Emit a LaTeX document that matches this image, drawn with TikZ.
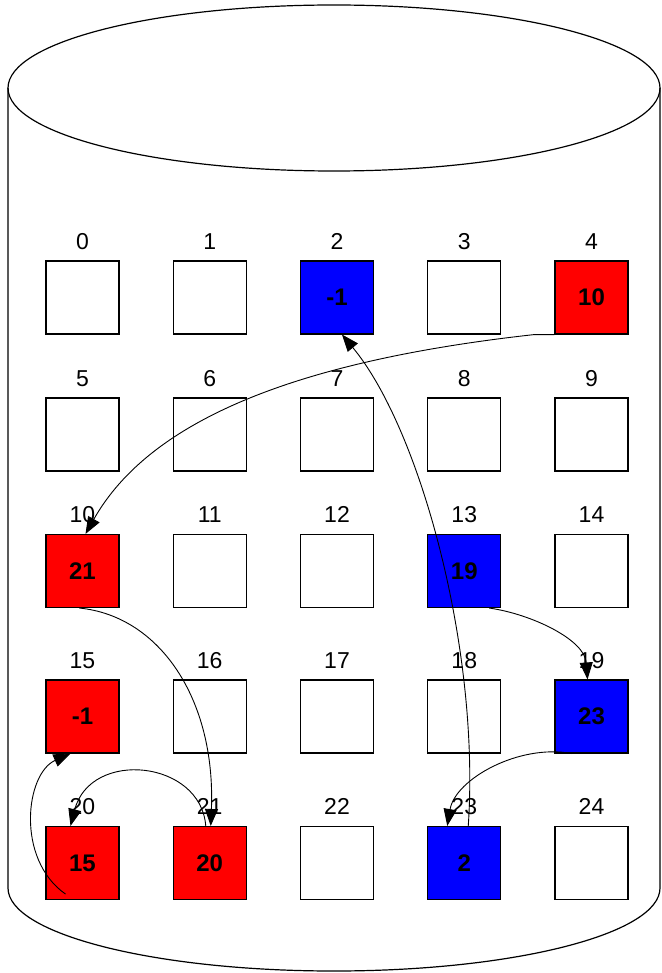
\documentclass[tikz,border=0pt]{standalone}
\usepackage{fontspec}
\setmainfont{Liberation Sans}
\usetikzlibrary{arrows.meta}
\definecolor{cellred}{RGB}{255,0,0}
\definecolor{cellblue}{RGB}{0,0,255}
\tikzset{
  cell/.style={rectangle, draw=black, line width=1.1pt, fill=white,
               minimum width=73pt, minimum height=73pt, inner sep=0pt,
               font=\fontsize{24}{26}\selectfont\bfseries},
  redcell/.style={cell, fill=cellred},
  bluecell/.style={cell, fill=cellblue},
  clabel/.style={font=\fontsize{23}{25}\selectfont, inner sep=0pt},
  link/.style={-{Triangle[length=17pt,width=13pt]}, line width=0.9pt},
  wall/.style={line width=1.2pt},
}

\begin{document}
\begin{tikzpicture}[x=1pt,y=-1pt]
  \useasboundingbox (0,0) rectangle (661,973);

  % the drum
  \draw[wall] (334,88) ellipse [x radius=326, y radius=83];
  \draw[wall] (8,88) -- (8,888) arc[start angle=180, end angle=0, x radius=326, y radius=83] -- (660,88);

  % 5x5 cells, index above each
  \foreach \i/\kind/\val in {0/cell/{},1/cell/{},2/bluecell/-1,3/cell/{},4/redcell/10,
      5/cell/{},6/cell/{},7/cell/{},8/cell/{},9/cell/{},
      10/redcell/21,11/cell/{},12/cell/{},13/bluecell/19,14/cell/{},
      15/redcell/-1,16/cell/{},17/cell/{},18/cell/{},19/bluecell/23,
      20/redcell/15,21/redcell/20,22/cell/{},23/bluecell/2,24/cell/{}}
  {
    \pgfmathtruncatemacro\col{mod(\i,5)}
    \pgfmathtruncatemacro\row{div(\i,5)}
    \pgfmathsetmacro\cy{{297.5,434.5,571,716.5,863}[\row]}
    \node[\kind, label={[clabel,label distance=11pt]above:\i}] (c\i) at (82.5+127.25*\col,\cy) {\val};
  }

  % red chain
  \draw[link] (c4.south west) -- ++(-20,0) .. controls +(-235,26) and +(65,-115) .. ([xshift=3pt]c10.north);
  \draw[link] ([xshift=-3pt]c10.south) .. controls +(80,8) and +(5,-127) .. ([xshift=1pt]c21.north);
  \draw[link] ([xshift=-4pt]c21.north) .. controls +(-5,-66) and +(20,-77) .. ([xshift=-12pt]c20.north);
  \draw[link] ([shift={(-17,-6)}]c20.south) .. controls +(-50,-35) and +(-45,20) .. ([xshift=-12pt]c15.south);

  % blue chain
  \draw[link] ([xshift=-12pt]c13.south east) .. controls +(42,6) and +(-3,-40) .. ([xshift=-4pt]c19.north);
  \draw[link] ([xshift=-20pt]c19.south) .. controls +(-52,-10) and +(8,-47) .. ([xshift=-17pt]c23.north);
  \draw[link] ([xshift=4pt]c23.north) .. controls +(12,-177) and +(78,94) .. ([xshift=5pt]c2.south);
\end{tikzpicture}
\end{document}
